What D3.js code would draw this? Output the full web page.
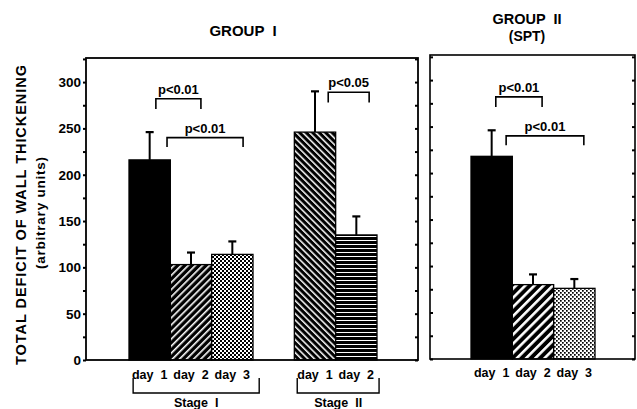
<!DOCTYPE html>
<html>
<head>
<meta charset="utf-8">
<script src="https://cdn.jsdelivr.net/npm/d3@7/dist/d3.min.js"></script>
<style>
    body { margin: 0; background: #fff; }
    svg { font-family: "Liberation Sans", Arial, sans-serif; font-weight: bold; }
</style>
</head>
<body>
<div id="chart"></div>
<script>
// Group I: stage I (day 1-3), empty slot, stage II (day 1-2)
const groupIKeys = ["I-1", "I-2", "I-3", "gap", "II-1", "II-2"];
const groupILabels = ["day 1", "day 2", "day 3", "", "day 1", "day 2"];
const groupIMeans = [216, 103, 114, null, 246, 135];
const groupIErrors = [30, 13, 14, null, 44, 20];
const groupIFills = ["solid", "slash", "dots", null, "backslash", "horiz"];

// Group II (SPT)
const groupIIKeys = ["1", "2", "3"];
const groupIILabels = ["day 1", "day 2", "day 3"];
const groupIIMeans = [218, 80, 76];
const groupIIErrors = [28, 11, 10];
const groupIIFills = ["solid", "slashWide", "dotsLight"];

// Axis ticks
const tickValues = d3.range(0, 326, 25);
const labelledTicks = [0, 50, 100, 150, 200, 250, 300];

// Significance brackets (value units for heights, fraction of band for ends)
const groupIBrackets = [
    {from: "I-1", fromFrac: 0.65, to: "I-2", toFrac: 0.74, top: 282, leg: 271, label: "p<0.01"},
    {from: "I-1", fromFrac: 0.92, to: "I-3", toFrac: 0.76, top: 240, leg: 230, label: "p<0.01"},
    {from: "II-1", fromFrac: 0.82, to: "II-2", toFrac: 0.81, top: 289, leg: 278, label: "p<0.05"}
];
const groupIIBrackets = [
    {from: "1", fromFrac: 0.6, to: "2", toFrac: 0.72, top: 282, leg: 271, label: "p<0.01"},
    {from: "1", fromFrac: 0.85, to: "3", toFrac: 0.73, top: 240, leg: 230, label: "p<0.01"}
];

// Stage groupings under group I
const stages = [
    {from: "I-1", fromFrac: 0.1, to: "I-3", toFrac: 1.15, label: "Stage  I"},
    {from: "II-1", fromFrac: 0.07, to: "II-2", toFrac: 1.05, label: "Stage  II"}
];

let svg = d3.select("#chart").append("svg")
    .attr("width", 637)
    .attr("height", 409);

// Fill patterns
let defs = svg.append("defs");

function linePattern(id, size, white, angle, dir) {
    let p = defs.append("pattern")
        .attr("id", id)
        .attr("patternUnits", "userSpaceOnUse")
        .attr("width", size)
        .attr("height", size)
        .attr("patternTransform", `rotate(${angle})`);
    p.append("rect").attr("width", size).attr("height", size).attr("fill", "#000");
    if (dir === "h") {
        p.append("rect").attr("y", 0).attr("width", size).attr("height", white).attr("fill", "#fff");
    } else {
        p.append("rect").attr("x", 0).attr("width", white).attr("height", size).attr("fill", "#fff");
    }
}
linePattern("slash", 5, 1.6, 45, "v");
linePattern("slashWide", 6.5, 2.6, 45, "v");
linePattern("backslash", 4.6, 1.5, -45, "v");
linePattern("horiz", 4, 1, 0, "h");

function dotPattern(id, size, dot) {
    let p = defs.append("pattern")
        .attr("id", id)
        .attr("patternUnits", "userSpaceOnUse")
        .attr("width", size * 2)
        .attr("height", size * 2);
    p.append("rect").attr("width", size * 2).attr("height", size * 2).attr("fill", "#fff");
    p.append("rect").attr("width", dot).attr("height", dot).attr("fill", "#000");
    p.append("rect").attr("x", size).attr("y", size).attr("width", dot).attr("height", dot).attr("fill", "#000");
}
dotPattern("dots", 2, 2);
dotPattern("dotsLight", 2, 1.7);

function fillFor(f) {
    return f === "solid" ? "#000" : `url(#${f})`;
}

// Scales
let xI = d3.scaleBand().domain(groupIKeys).range([129, 377]).padding(0);
let xII = d3.scaleBand().domain(groupIIKeys).range([471, 595]).padding(0);
let yI = d3.scaleLinear().domain([0, 326]).range([360, 58]);
let yII = d3.scaleLinear().domain([0, 327]).range([359, 55]);

let frameI = {left: 86, right: 418};
let frameII = {left: 430, right: 635};

// Draw one panel of bars with error bars
function drawPanel(x, y, keys, means, errors, fills) {
    let data = keys.map((k, i) => ({key: k, mean: means[i], err: errors[i], fill: fills[i]}))
        .filter(d => d.mean !== null);

    let g = svg.append("g");

    g.selectAll(".err")
        .data(data)
        .enter()
        .append("line")
        .attr("x1", d => x(d.key) + x.bandwidth() / 2)
        .attr("x2", d => x(d.key) + x.bandwidth() / 2)
        .attr("y1", d => y(d.mean))
        .attr("y2", d => y(d.mean + d.err))
        .attr("stroke", "#000")
        .attr("stroke-width", 2);

    g.selectAll(".cap")
        .data(data)
        .enter()
        .append("line")
        .attr("x1", d => x(d.key) + x.bandwidth() / 2 - 4)
        .attr("x2", d => x(d.key) + x.bandwidth() / 2 + 4)
        .attr("y1", d => y(d.mean + d.err))
        .attr("y2", d => y(d.mean + d.err))
        .attr("stroke", "#000")
        .attr("stroke-width", 2.2);

    g.selectAll("rect")
        .data(data)
        .enter()
        .append("rect")
        .attr("x", d => x(d.key))
        .attr("y", d => y(d.mean))
        .attr("width", x.bandwidth())
        .attr("height", d => y(0) - y(d.mean))
        .attr("fill", d => fillFor(d.fill))
        .attr("stroke", "#000")
        .attr("stroke-width", 1.3);
}

drawPanel(xI, yI, groupIKeys, groupIMeans, groupIErrors, groupIFills);
drawPanel(xII, yII, groupIIKeys, groupIIMeans, groupIIErrors, groupIIFills);

// Frames
svg.append("rect")
    .attr("x", frameI.left).attr("y", yI.range()[1])
    .attr("width", frameI.right - frameI.left)
    .attr("height", yI.range()[0] - yI.range()[1])
    .attr("fill", "none").attr("stroke", "#000").attr("stroke-width", 1.8);
svg.append("rect")
    .attr("x", frameII.left).attr("y", yII.range()[1])
    .attr("width", frameII.right - frameII.left)
    .attr("height", yII.range()[0] - yII.range()[1])
    .attr("fill", "none").attr("stroke", "#000").attr("stroke-width", 1.6);

// Axes
function addAxis(axis, xPos) {
    let a = svg.append("g")
        .attr("class", "axis")
        .attr("transform", `translate(${xPos}, 0)`)
        .call(axis);
    a.select(".domain").remove();
    a.selectAll(".tick line").attr("stroke-width", 2);
    return a;
}

let leftAxis = addAxis(d3.axisLeft(yI)
    .tickValues(tickValues)
    .tickSize(3)
    .tickPadding(2)
    .tickFormat(d => labelledTicks.includes(d) ? d : ""), frameI.left);
leftAxis.selectAll("text")
    .style("font-size", "13.5px")
    .style("font-weight", "bold")
    .style("font-family", "'Liberation Sans', Arial, sans-serif");

addAxis(d3.axisLeft(yI).tickValues(tickValues).tickSize(3).tickFormat(""), frameI.right);
addAxis(d3.axisRight(yII).tickValues(tickValues).tickSize(3).tickFormat(""), frameII.left);
addAxis(d3.axisLeft(yII).tickValues(tickValues).tickSize(3).tickFormat(""), frameII.right);

// Day labels under bars
function dayLabels(x, keys, labels, yPos) {
    svg.append("g")
        .selectAll("text")
        .data(keys.map((k, i) => ({key: k, label: labels[i]})).filter(d => d.label))
        .enter()
        .append("text")
        .attr("x", d => x(d.key) + x.bandwidth() / 2)
        .attr("y", yPos)
        .attr("text-anchor", "middle")
        .style("font-size", "12.5px")
        .style("white-space", "pre")
        .text(d => d.label.replace(" ", "  "));
}
dayLabels(xI, groupIKeys, groupILabels, 379);
dayLabels(xII, groupIIKeys, groupIILabels, 377);

// Significance brackets
function drawBrackets(x, y, brackets) {
    brackets.forEach(b => {
        let x1 = x(b.from) + b.fromFrac * x.bandwidth();
        let x2 = x(b.to) + b.toFrac * x.bandwidth();
        svg.append("path")
            .attr("d", `M${x1},${y(b.leg)}V${y(b.top)}H${x2}V${y(b.leg)}`)
            .attr("fill", "none")
            .attr("stroke", "#000")
            .attr("stroke-width", 1.6);
        svg.append("text")
            .attr("x", (x1 + x2) / 2)
            .attr("y", y(b.top) - 5)
            .attr("text-anchor", "middle")
            .style("font-size", "13px")
            .text(b.label);
    });
}
drawBrackets(xI, yI, groupIBrackets);
drawBrackets(xII, yII, groupIIBrackets);

// Stage brackets below the axis
stages.forEach(s => {
    let x1 = xI(s.from) + s.fromFrac * xI.bandwidth();
    let x2 = xI(s.to) + s.toFrac * xI.bandwidth();
    svg.append("path")
        .attr("d", `M${x1},378V393H${x2}V378`)
        .attr("fill", "none")
        .attr("stroke", "#000")
        .attr("stroke-width", 1.4);
    svg.append("text")
        .attr("x", (x1 + x2) / 2)
        .attr("y", 407)
        .attr("text-anchor", "middle")
        .style("font-size", "12.5px")
        .style("white-space", "pre")
        .text(s.label);
});

// Titles
svg.append("text")
    .attr("x", 243).attr("y", 36)
    .attr("text-anchor", "middle")
    .style("font-size", "15px")
    .style("white-space", "pre")
    .text("GROUP  I");
svg.append("text")
    .attr("x", 527).attr("y", 24)
    .attr("text-anchor", "middle")
    .style("font-size", "14.5px")
    .style("white-space", "pre")
    .text("GROUP  II");
svg.append("text")
    .attr("x", 527).attr("y", 41)
    .attr("text-anchor", "middle")
    .style("font-size", "14px")
    .text("(SPT)");

// Vertical axis labels
svg.append("text")
    .attr("transform", "translate(26, 215) rotate(-90)")
    .attr("text-anchor", "middle")
    .attr("textLength", 300)
    .attr("lengthAdjust", "spacing")
    .style("font-size", "14.5px")
    .text("TOTAL DEFICIT OF WALL THICKENING");
svg.append("text")
    .attr("transform", "translate(45, 213) rotate(-90)")
    .attr("text-anchor", "middle")
    .attr("textLength", 112)
    .attr("lengthAdjust", "spacing")
    .style("font-size", "13.5px")
    .text("(arbitrary units)");
</script>
</body>
</html>
